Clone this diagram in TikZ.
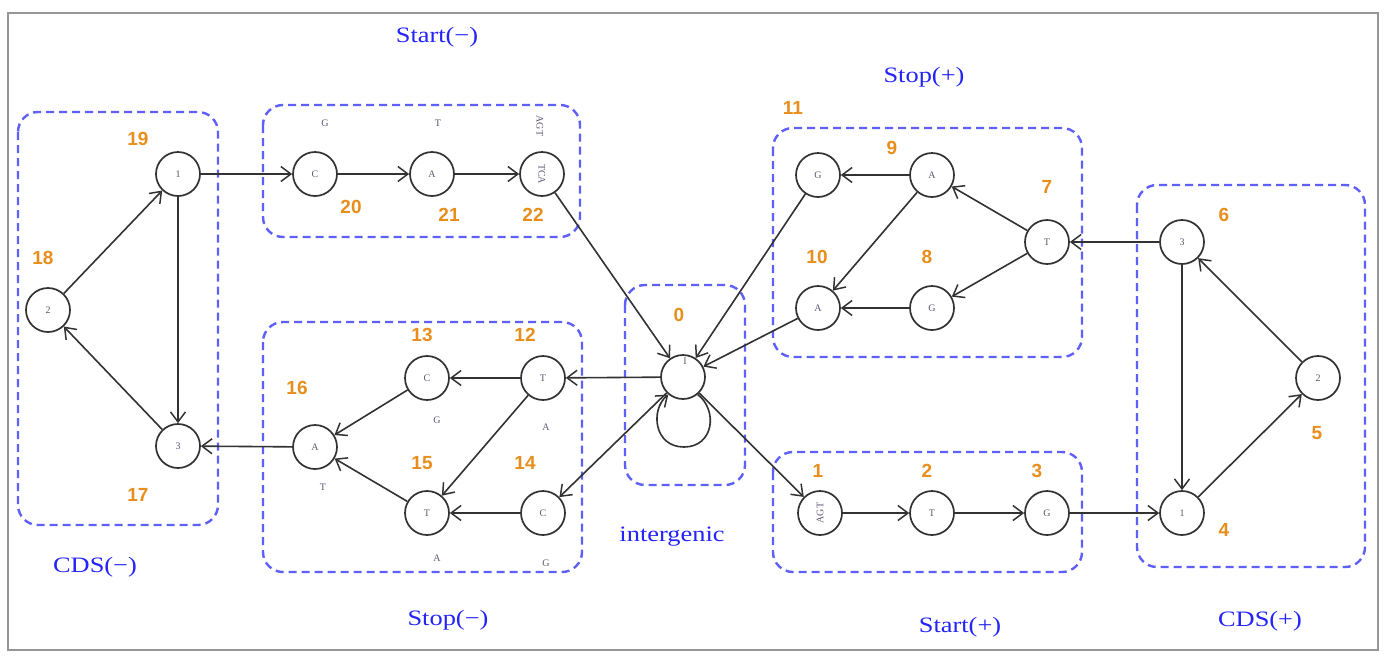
\documentclass[tikz,border=0pt]{standalone}
\usepackage{fontspec}
\setmainfont{Liberation Serif}
\setsansfont{Liberation Sans}
\usepackage{graphicx}
\usetikzlibrary{arrows.meta}
\definecolor{orng}{RGB}{232,142,28}
\definecolor{grpblue}{RGB}{95,95,250}
\definecolor{lblblue}{RGB}{35,35,250}
\definecolor{tinyc}{RGB}{95,85,115}
\definecolor{edgegray}{RGB}{50,50,50}
\definecolor{framegray}{RGB}{150,150,150}
\newcommand\wideT[1]{\scalebox{1.2}[1]{#1}}
\begin{document}
\begin{tikzpicture}[x=1pt,y=-1pt,
  st/.style={circle,draw=edgegray,line width=1.7pt,minimum size=44pt,inner sep=0pt,font=\fontsize{10}{10}\selectfont,text=tinyc},
  arr/.style={draw=edgegray,line width=1.6pt,-{Straight Barb[length=10pt,width=15pt,line width=1.5pt]}},
  arrthick/.style={arr,line width=2.4pt},
  grp/.style={draw=grpblue,line width=2.4pt,dash pattern=on 8pt off 5pt,rounded corners=20pt},
  num/.style={text=orng,font=\fontsize{19}{19}\selectfont\bfseries\sffamily,inner sep=0pt},
  ttl/.style={text=lblblue,font=\fontsize{22}{22}\selectfont,inner sep=0pt},
  sm/.style={text=tinyc,font=\fontsize{10}{10}\selectfont,inner sep=0pt}
]
\useasboundingbox (0,0) rectangle (1398,662);
\fill[white] (0,0) rectangle (1398,662);
\draw[framegray,line width=2.5pt] (8,13) rectangle (1378,650);

% group boxes
\draw[grp] (18,112) rectangle (218,525);
\draw[grp] (263,105) rectangle (580,237);
\draw[grp] (263,322) rectangle (582,572);
\draw[grp] (625,285) rectangle (745,485);
\draw[grp] (773,128) rectangle (1082,357);
\draw[grp] (773,452) rectangle (1082,572);
\draw[grp] (1137,185) rectangle (1365,567);

% titles
\node[ttl] (tStartM) at (437,37) {\wideT{Start(−)}};
\node[ttl] (tStopP) at (924,77) {\wideT{Stop(+)}};
\node[ttl] (tCDSM) at (95,567) {\wideT{CDS(−)}};
\node[ttl] (tStopM) at (448,620) {\wideT{Stop(−)}};
\node[ttl] (tInter) at (672,537) {\wideT{intergenic}};
\node[ttl] (tStartP) at (960,627) {\wideT{Start(+)}};
\node[ttl] (tCDSP) at (1260,621) {\wideT{CDS(+)}};

% states
\node[st] (n0) at (683,377) {};
\node[sm] (s0) at (685,361) {I};
\node[st] (n1) at (820,513) {\rotatebox{90}{AGT}};
\node[st] (n2) at (932,513) {T};
\node[st] (n3) at (1047,513) {G};
\node[st] (n4) at (1182,513) {1};
\node[st] (n5) at (1318,378) {2};
\node[st] (n6) at (1182,242) {3};
\node[st] (n7) at (1047,242) {T};
\node[st] (n8) at (932,308) {G};
\node[st] (n9) at (932,175) {A};
\node[st] (n10) at (818,308) {A};
\node[st] (n11) at (818,175) {G};
\node[st] (n12) at (543,378) {T};
\node[st] (n13) at (427,378) {C};
\node[st] (n14) at (543,513) {C};
\node[st] (n15) at (427,513) {T};
\node[st] (n16) at (315,447) {A};
\node[st] (n17) at (178,446) {3};
\node[st] (n18) at (48,310) {2};
\node[st] (n19) at (178,174) {1};
\node[st] (n20) at (315,174) {C};
\node[st] (n21) at (432,174) {A};
\node[st] (n22) at (542,174) {\rotatebox{-90}{TCA}};

% small side letters
\node[sm] (a20) at (325,123) {G};
\node[sm] (a21) at (438,123) {T};
\node[sm] (a22) at (540,126) {\rotatebox{-90}{AGT}};
\node[sm] (a13) at (437,420) {G};
\node[sm] (a12) at (546,427) {A};
\node[sm] (a16) at (323,487) {T};
\node[sm] (a15) at (437,558) {A};
\node[sm] (a14) at (546,563) {G};

% numbers
\node[num] (l0) at (679,315) {0};
\node[num] (l1) at (818,471) {1};
\node[num] (l2) at (927,471) {2};
\node[num] (l3) at (1037,471) {3};
\node[num] (l4) at (1224,530) {4};
\node[num] (l5) at (1317,433) {5};
\node[num] (l6) at (1224,215) {6};
\node[num] (l7) at (1047,187) {7};
\node[num] (l8) at (927,257) {8};
\node[num] (l9) at (892,148) {9};
\node[num] (l10) at (817,257) {10};
\node[num] (l11) at (793,108) {11};
\node[num] (l12) at (525,335) {12};
\node[num] (l13) at (422,335) {13};
\node[num] (l14) at (525,463) {14};
\node[num] (l15) at (422,463) {15};
\node[num] (l16) at (297,388) {16};
\node[num] (l17) at (138,495) {17};
\node[num] (l18) at (43,258) {18};
\node[num] (l19) at (138,139) {19};
\node[num] (l20) at (351,207) {20};
\node[num] (l21) at (449,215) {21};
\node[num] (l22) at (533,215) {22};

% CDS(-)
\draw[arr] (n19) -- (n17);
\draw[arr] (n17) -- (n18);
\draw[arr] (n18) -- (n19);
% Start(-)
\draw[arr] (n19) -- (n20);
\draw[arr] (n20) -- (n21);
\draw[arr] (n21) -- (n22);
\draw[arr] (n22) -- (n0);
% Stop(-)
\draw[arr] (n0) -- (n12);
\draw[arr] (n0) -- (n14);
\draw[arr] (n12) -- (n13);
\draw[arr] (n12) -- (n15);
\draw[arrthick] (n14) -- (n15);
\draw[arr] (n13) -- (n16);
\draw[arr] (n15) -- (n16);
\draw[arr] (n16) -- (n17);
% intergenic loop
\draw[arr] (n0.-50) .. controls (718,410) and (714,447) .. (684,447)
  .. controls (654,447) and (650,410) .. (n0.-130);
% Start(+)
\draw[arr] (n0) -- (n1);
\draw[arr] (n1) -- (n2);
\draw[arr] (n2) -- (n3);
\draw[arrthick] (n3) -- (n4);
% CDS(+)
\draw[arr] (n6) -- (n4);
\draw[arr] (n4) -- (n5);
\draw[arr] (n5) -- (n6);
% Stop(+)
\draw[arr] (n6) -- (n7);
\draw[arr] (n7) -- (n9);
\draw[arr] (n7) -- (n8);
\draw[arr] (n9) -- (n11);
\draw[arr] (n9) -- (n10);
\draw[arrthick] (n8) -- (n10);
\draw[arr] (n11) -- (n0);
\draw[arr] (n10) -- (n0);
\end{tikzpicture}
\end{document}
